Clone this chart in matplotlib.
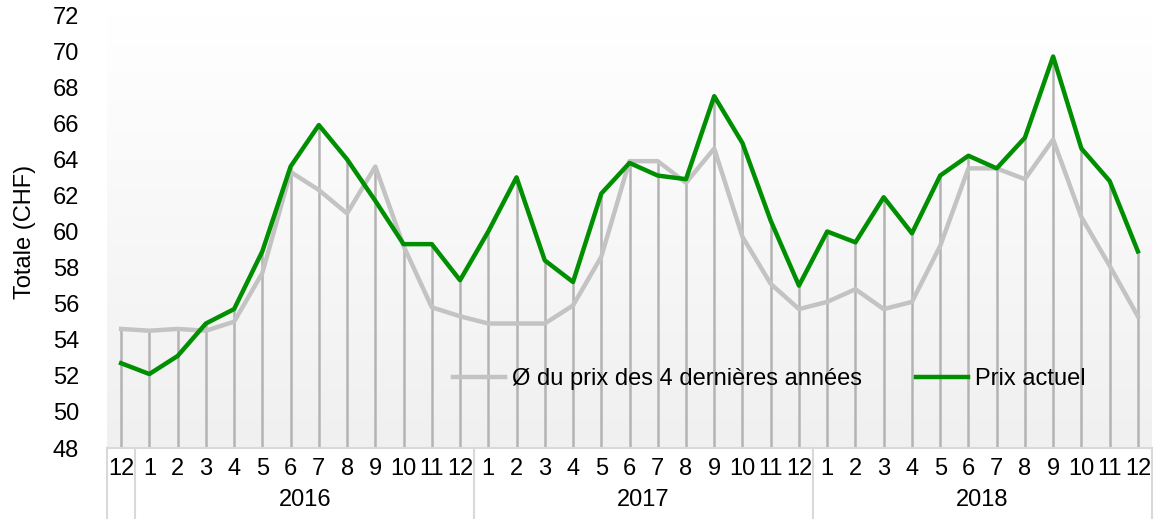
import numpy as np
import matplotlib
matplotlib.use('Agg')
import matplotlib.pyplot as plt

plt.rcParams['font.family'] = ['Liberation Sans', 'DejaVu Sans']

# values (Dec 2015 .. Dec 2018)
months = ['12'] + [str(m) for m in range(1, 13)] * 3
years = ['2016', '2017', '2018']
actual = [52.7, 52.1, 53.1, 54.9, 55.7, 58.9, 63.6, 65.9, 64.0, 61.7, 59.3, 59.3,
          57.3, 60.0, 63.0, 58.4, 57.2, 62.1, 63.8, 63.1, 62.9, 67.5, 64.9, 60.6,
          57.0, 60.0, 59.4, 61.9, 59.9, 63.1, 64.2, 63.5, 65.2, 69.7, 64.6, 62.8,
          58.9]
avg4 = [54.6, 54.5, 54.6, 54.5, 55.0, 57.7, 63.3, 62.3, 61.0, 63.6, 59.2, 55.8,
        55.3, 54.9, 54.9, 54.9, 55.9, 58.6, 63.9, 63.9, 62.7, 64.6, 59.7, 57.1,
        55.7, 56.1, 56.8, 55.7, 56.1, 59.2, 63.5, 63.5, 62.9, 65.1, 60.8, 58.1,
        55.3]

x = np.arange(len(months))
fs = 17

fig = plt.figure(figsize=(11.54, 5.19), dpi=100)
ax = fig.add_axes([107 / 1154, 71 / 519, 1045 / 1154, 433 / 519])

# soft vertical gradient in the plot area (white at top, light grey at bottom)
grad = np.linspace(0, 1, 256).reshape(-1, 1)
cmap = matplotlib.colors.LinearSegmentedColormap.from_list('bg', ['#ffffff', '#f0f0f0'])
ax.imshow(grad, aspect='auto', cmap=cmap, extent=(-0.5, len(x) - 0.5, 48, 72),
          zorder=0, origin='upper')

# drop lines
ax.vlines(x, 48, np.maximum(actual, avg4), color='#b3b3b3', lw=1.8, zorder=1)

ax.plot(x, avg4, color='#c3c3c3', lw=3.2, label='Ø du prix des 4 dernières années',
        zorder=2, solid_joinstyle='round')
ax.plot(x, actual, color='#008f00', lw=3.2, label='Prix actuel', zorder=3,
        solid_joinstyle='round')

ax.set_xlim(-0.5, len(x) - 0.5)
ax.set_ylim(48, 72)
ax.set_yticks(np.arange(48, 73, 2))
ax.tick_params(axis='y', length=0, pad=20, labelsize=fs)
ax.set_xticks(x)
ax.set_xticklabels(months)
ax.tick_params(axis='x', length=0, pad=7, labelsize=fs)
ax.set_ylabel('Totale (CHF)', fontsize=fs, labelpad=12)

for s in ['top', 'right', 'left']:
    ax.spines[s].set_visible(False)
ax.spines['bottom'].set_color('#d9d9d9')
ax.spines['bottom'].set_linewidth(1.5)

# category group separators and year labels
tr = ax.get_xaxis_transform()
ybot = -71 / 433
for b in [-0.5, 0.5, 12.5, 24.5, 36.5]:
    ax.plot([b, b], [0, ybot], transform=tr, color='#d9d9d9', lw=1.5, clip_on=False)
for i, yr in enumerate(years):
    ax.text(6.5 + 12 * i, -52 / 433, yr, transform=tr, ha='center', va='center',
            fontsize=fs)

ax.legend(loc='center left', bbox_to_anchor=(0.331, 0.159), ncol=2, frameon=False,
          fontsize=fs, handlelength=2.2, handletextpad=0.3, columnspacing=2.3,
          borderpad=0, borderaxespad=0)

fig.savefig('out.png', dpi=100)
